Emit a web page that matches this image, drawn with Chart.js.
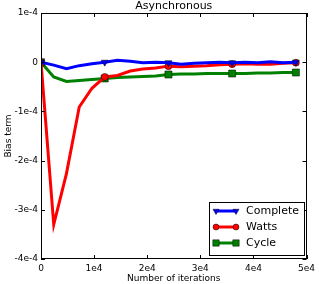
<!DOCTYPE html>
<html>
<head>
<meta charset="utf-8">
<script src="https://cdn.jsdelivr.net/npm/chart.js@4"></script>
<style>
  html, body { margin: 0; padding: 0; background: #fff; }
  #wrap { width: 319px; height: 284px; }
</style>
</head>
<body>
<div id="wrap"><canvas id="ctxBias"></canvas></div>
<script>
// iterations sampled every 2400, marker every 5th point
const iterations = [0, 2400, 4800, 7200, 9600, 12000, 14400, 16800, 19200, 21600, 24000,
  26400, 28800, 31200, 33600, 36000, 38400, 40800, 43200, 45600, 48000];
const complete = [0, -0.06e-4, -0.13e-4, -0.07e-4, -0.03e-4, 0, 0.04e-4, 0.02e-4, -0.01e-4, 0, -0.01e-4,
  -0.04e-4, -0.02e-4, -0.01e-4, 0, -0.01e-4, 0, -0.01e-4, 0.01e-4, -0.01e-4, 0];
const watts = [0, -3.3e-4, -2.26e-4, -0.91e-4, -0.53e-4, -0.30e-4, -0.27e-4, -0.18e-4, -0.14e-4, -0.12e-4, -0.08e-4,
  -0.09e-4, -0.08e-4, -0.07e-4, -0.05e-4, -0.04e-4, -0.03e-4, -0.04e-4, -0.04e-4, -0.02e-4, -0.01e-4];
const cycle = [0, -0.30e-4, -0.39e-4, -0.37e-4, -0.35e-4, -0.33e-4, -0.31e-4, -0.30e-4, -0.29e-4, -0.28e-4, -0.25e-4,
  -0.24e-4, -0.24e-4, -0.23e-4, -0.23e-4, -0.23e-4, -0.23e-4, -0.22e-4, -0.22e-4, -0.21e-4, -0.21e-4];
const seriesNames = ['Complete', 'Watts', 'Cycle'];
const xTicks = [0, 10000, 20000, 30000, 40000, 50000];
const xTickLabels = ['0', '1e4', '2e4', '3e4', '4e4', '5e4'];
const yTicks = [1e-4, 0, -1e-4, -2e-4, -3e-4, -4e-4];
const yTickLabels = ['1e-4', '0', '-1e-4', '-2e-4', '-3e-4', '-4e-4'];

const FONT = 'DejaVu Sans';
const markEvery = c => (c.dataIndex % 5 === 0 ? 1 : 0);

function makeSet(label, values, color, style, radius, rotation) {
  return {
    label: label,
    data: iterations.map((x, i) => ({ x: x, y: values[i] })),
    borderColor: color,
    backgroundColor: color,
    borderWidth: 3,
    pointStyle: style,
    pointRotation: rotation,
    markerRadius: radius,
    pointRadius: c => markEvery(c) * radius,
    pointHoverRadius: 0,
    pointBorderColor: '#000',
    pointBorderWidth: 0.5,
    pointBackgroundColor: color,
    tension: 0
  };
}

// matplotlib-like frame, inward ticks, title and legend
const mplLook = {
  id: 'mplLook',
  afterDraw(chart) {
    const ctx = chart.ctx;
    const a = chart.chartArea;
    const xs = chart.scales.x, ys = chart.scales.y;
    ctx.save();
    ctx.strokeStyle = '#000';
    ctx.lineWidth = 1;
    ctx.beginPath();
    xTicks.forEach(v => {
      const px = Math.round(xs.getPixelForValue(v)) + 0.5;
      ctx.moveTo(px, a.bottom); ctx.lineTo(px, a.bottom - 4);
      ctx.moveTo(px, a.top); ctx.lineTo(px, a.top + 4);
    });
    yTicks.forEach(v => {
      const py = Math.round(ys.getPixelForValue(v)) + 0.5;
      ctx.moveTo(a.left, py); ctx.lineTo(a.left + 4, py);
      ctx.moveTo(a.right, py); ctx.lineTo(a.right - 4, py);
    });
    ctx.stroke();
    ctx.strokeRect(Math.round(a.left) + 0.5, Math.round(a.top) + 0.5,
      Math.round(a.right - a.left) - 1, Math.round(a.bottom - a.top) - 1);

    // title
    ctx.fillStyle = '#000';
    ctx.font = '11px "' + FONT + '"';
    ctx.textAlign = 'center';
    ctx.textBaseline = 'middle';
    ctx.fillText('Asynchronous', (a.left + a.right) / 2, 6);

    // legend
    const lx = 209, ly = 202, lw = 95, lh = 53;
    ctx.fillStyle = '#fff';
    ctx.fillRect(lx, ly, lw, lh);
    ctx.strokeStyle = '#000';
    ctx.lineWidth = 1;
    ctx.strokeRect(lx + 0.5, ly + 0.5, lw, lh);
    chart.data.datasets.forEach((ds, i) => {
      const y = ly + 9 + i * 16;
      ctx.strokeStyle = ds.borderColor;
      ctx.lineWidth = 3;
      ctx.beginPath();
      ctx.moveTo(216, y); ctx.lineTo(236, y);
      ctx.stroke();
      [216, 236].forEach(px => {
        ctx.fillStyle = ds.borderColor;
        ctx.strokeStyle = '#000';
        ctx.lineWidth = 0.5;
        Chart.helpers.drawPoint(ctx, {
          pointStyle: ds.pointStyle,
          rotation: ds.pointRotation,
          radius: ds.markerRadius - 0.5,
          borderWidth: 0.5
        }, px, y);
      });
      ctx.fillStyle = '#000';
      ctx.font = '11px "' + FONT + '"';
      ctx.textAlign = 'left';
      ctx.textBaseline = 'middle';
      ctx.fillText(ds.label, 246, y + 0.5);
    });
    ctx.restore();
  }
};

const ctxBias = document.getElementById('ctxBias');
new Chart(ctxBias, {
  type: 'line',
  data: {
    datasets: [
      makeSet(seriesNames[0], complete, '#0000ff', 'triangle', 4, 180),
      makeSet(seriesNames[1], watts, '#ff0000', 'circle', 3.5, 0),
      makeSet(seriesNames[2], cycle, '#008000', 'rect', 5, 0)
    ]
  },
  options: {
    responsive: true,
    maintainAspectRatio: false,
    animation: false,
    events: [],
    layout: { padding: { top: 13, right: 9, left: 0, bottom: 0 } },
    plugins: { legend: { display: false }, title: { display: false }, tooltip: { enabled: false } },
    scales: {
      x: {
        type: 'linear',
        min: 0, max: 50000,
        afterFit: s => { s.height = 25; },
        afterBuildTicks: s => { s.ticks = xTicks.map(v => ({ value: v })); },
        grid: { display: false, drawTicks: false },
        border: { display: false },
        ticks: {
          color: '#000', padding: 4, maxRotation: 0,
          font: { family: FONT, size: 9 },
          callback: v => xTickLabels[xTicks.indexOf(v)]
        },
        title: {
          display: true, text: 'Number of iterations', color: '#000',
          padding: { top: 0, bottom: 0 },
          font: { family: FONT, size: 9 }
        }
      },
      y: {
        type: 'linear',
        min: -4e-4, max: 1e-4,
        afterFit: s => { s.width = 41; },
        afterBuildTicks: s => { s.ticks = yTicks.map(v => ({ value: v })); },
        grid: { display: false, drawTicks: false },
        border: { display: false },
        ticks: {
          color: '#000', padding: 3,
          font: { family: FONT, size: 9 },
          callback: v => yTickLabels[yTicks.findIndex(t => Math.abs(t - v) < 1e-9)]
        },
        title: {
          display: true, text: 'Bias term', color: '#000',
          padding: { top: 3, bottom: 0 },
          font: { family: FONT, size: 9 }
        }
      }
    }
  },
  plugins: [mplLook]
});
</script>
</body>
</html>
